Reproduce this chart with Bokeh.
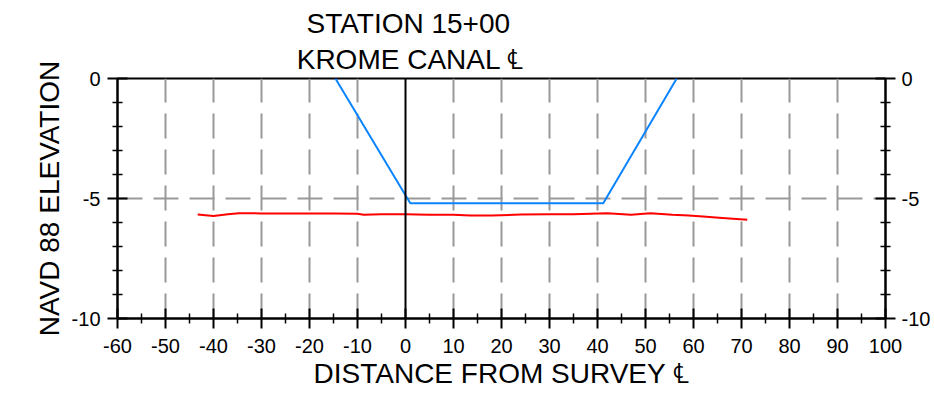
from bokeh.plotting import figure
from bokeh.models import Range1d, LinearAxis, FixedTicker, Span, Title
from bokeh.embed import file_html
from bokeh.resources import INLINE

# ---- data ----
x_ticks = [-60, -50, -40, -30, -20, -10, 0, 10, 20, 30, 40, 50, 60, 70, 80, 90, 100]
x_minor = [-55, -45, -35, -25, -15, -5, 5, 15, 25, 35, 45, 55, 65, 75, 85, 95]
y_ticks = [-10, -5, 0]
y_minor = [-9, -8, -7, -6, -4, -3, -2, -1]
x_grid = [-50, -40, -30, -20, -10, 10, 20, 30, 40, 50, 60, 70, 80, 90]
y_grid = [-5]

# surveyed bottom (red)
bed_x = [-43.3, -40.0, -37.0, -34.7, -30.0, -25.0, -20.0, -15.0, -10.0, -8.7, -5.0, 0.0,
         5.0, 10.0, 13.5, 18.0, 24.0, 30.0, 35.0, 42.0, 47.0, 51.0, 55.6, 59.0, 62.0, 66.0, 71.2]
bed_y = [-5.67, -5.73, -5.66, -5.61, -5.62, -5.63, -5.62, -5.63, -5.64, -5.68, -5.66, -5.66,
         -5.68, -5.68, -5.71, -5.71, -5.67, -5.66, -5.66, -5.61, -5.68, -5.61, -5.68, -5.71,
         -5.75, -5.81, -5.89]

# design canal section (blue)
canal_x = [-14.6, 1.0, 41.2, 56.5]
canal_y = [0.0, -5.2, -5.2, 0.0]

title_lines = ["STATION 15+00", "KROME CANAL \u2104"]

FONT = "Liberation Sans"

p = figure(width=934, height=407,
           x_range=Range1d(-60, 100), y_range=Range1d(-10, 0),
           output_backend="svg", toolbar_location=None,
           min_border_left=117, min_border_right=49,
           min_border_top=78, min_border_bottom=89,
           background_fill_color="white", border_fill_color="white")

p.outline_line_color = "black"
p.outline_line_width = 2

# grids
p.xgrid.ticker = FixedTicker(ticks=x_grid)
p.ygrid.ticker = FixedTicker(ticks=y_grid)
for g in (p.xgrid, p.ygrid):
    g.grid_line_color = "#999999"
    g.grid_line_width = 2
    g.grid_line_dash = "25 11"

# zero line
p.add_layout(Span(location=0, dimension="height", line_color="black", line_width=2))

def style_axis(ax, ticks):
    ax.axis_line_color = "black"
    ax.axis_line_width = 2
    ax.major_tick_line_color = "black"
    ax.major_tick_line_width = 2
    ax.major_tick_in = 10
    ax.major_tick_out = 10
    ax.minor_tick_line_color = "black"
    ax.minor_tick_line_width = 1.5
    ax.minor_tick_in = 5
    ax.minor_tick_out = 5
    ax.major_label_overrides = {t: str(t) for t in ticks}
    ax.major_label_text_font = FONT
    ax.major_label_text_font_size = "20px"
    ax.major_label_text_color = "black"
    ax.axis_label_text_font = FONT
    ax.axis_label_text_font_size = "28px"
    ax.axis_label_text_font_style = "normal"
    ax.axis_label_text_color = "black"

xa = p.xaxis[0]
xa.ticker = FixedTicker(ticks=x_ticks, minor_ticks=x_minor)
style_axis(xa, x_ticks)
xa.major_label_standoff = 10
xa.axis_label = "DISTANCE FROM SURVEY \u2104"
xa.axis_label_standoff = 2

ya = p.yaxis[0]
ya.ticker = FixedTicker(ticks=y_ticks, minor_ticks=y_minor)
style_axis(ya, y_ticks)
ya.major_label_standoff = 7
ya.axis_label = "NAVD 88 ELEVATION"
ya.axis_label_standoff = 4

ra = LinearAxis(ticker=FixedTicker(ticks=y_ticks, minor_ticks=y_minor))
style_axis(ra, y_ticks)
ra.major_label_standoff = 6
p.add_layout(ra, "right")

# data lines
p.line(bed_x, bed_y, line_color="#FF0000", line_width=2)
p.line(canal_x, canal_y, line_color="#0A84FF", line_width=2)

# title lines (added nearest-first)
t2 = Title(text=title_lines[1], align="center",
           padding=dict(top=0, right=182, bottom=0, left=0),
           text_font=FONT, text_font_size="28px",
           text_font_style="normal", text_color="black", standoff=7)
t1 = Title(text=title_lines[0], align="left", offset=189,
           text_font=FONT, text_font_size="28px",
           text_font_style="normal", text_color="black", standoff=0)
p.add_layout(t2, "above")
p.add_layout(t1, "above")

open("out.html", "w").write(file_html(p, INLINE))
